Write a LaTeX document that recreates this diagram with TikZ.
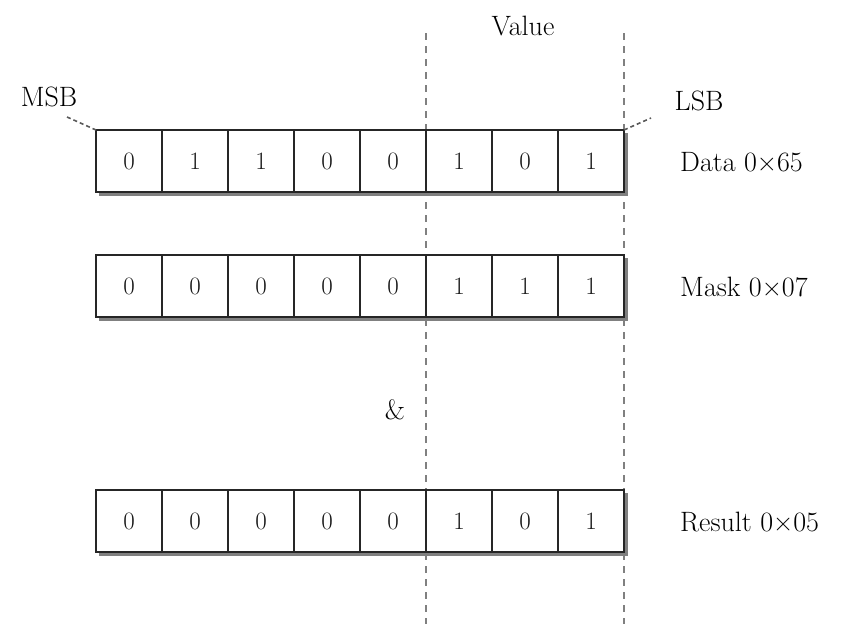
\documentclass[tikz,border=0pt]{standalone}
\usepackage{fontspec}
\begin{document}
\begin{tikzpicture}[x=1pt,y=-1pt,
  cell/.style={draw=black!85, line width=2pt, minimum width=66pt, minimum height=62pt, inner sep=0pt, outer sep=0pt, font=\fontsize{25}{27}\selectfont, text=black!90},
  lbl/.style={font=\fontsize{28}{30}\selectfont, text=black, inner sep=0pt},
  vline/.style={draw=black!50, line width=2.6pt, dash pattern=on 7pt off 6pt},
  lead/.style={draw=black!65, line width=1.6pt, dash pattern=on 4pt off 3pt},
  shadow/.style={fill=black!50},
  rowbg/.style={fill=white}]
\useasboundingbox (0,0) rectangle (841,624);
% dashed value lines
\coordinate (vt1) at (426,33);
\coordinate (vb1) at (426,624);
\coordinate (vt2) at (624,33);
\coordinate (vb2) at (624,624);
\draw[vline] (vt1) -- (vb1);
\draw[vline] (vt2) -- (vb2);
% shadows and white backgrounds
\fill[shadow] (99,133) rectangle (628,196);
\fill[shadow] (99,258) rectangle (628,321);
\fill[shadow] (99,493) rectangle (628,556);
\fill[rowbg] (96,130) rectangle (624,192);
\fill[rowbg] (96,255) rectangle (624,317);
\fill[rowbg] (96,490) rectangle (624,552);
% rows
\foreach \v [count=\i] in {0,1,1,0,0,1,0,1}
  \node[cell] (d\i) at ({96+66*(\i-0.5)},161) {\v};
\foreach \v [count=\i] in {0,0,0,0,0,1,1,1}
  \node[cell] (m\i) at ({96+66*(\i-0.5)},286) {\v};
\foreach \v [count=\i] in {0,0,0,0,0,1,0,1}
  \node[cell] (r\i) at ({96+66*(\i-0.5)},521) {\v};
% labels
\node[lbl] (value) at (523,26) {Value};
\node[lbl] (msb) at (49,97) {MSB};
\node[lbl] (lsb) at (699,101) {LSB};
\node[lbl, anchor=west] (data) at (680,162) {Data 0×65};
\node[lbl, anchor=west] (mask) at (680,287) {Mask 0×07};
\node[lbl] (amp) at (395,410) {\&};
\node[lbl, anchor=west] (res) at (680,522) {Result 0×05};
% leaders
\coordinate (msbend) at (67,117);
\coordinate (lsbend) at (651,118);
\draw[lead] (msbend) -- (d1.north west);
\draw[lead] (d8.north east) -- (lsbend);
\end{tikzpicture}
\end{document}
